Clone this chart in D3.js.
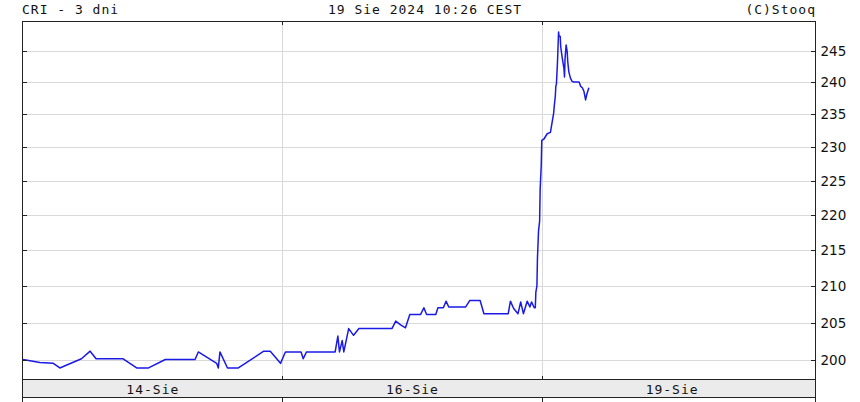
<!DOCTYPE html>
<html>
<head>
<meta charset="utf-8">
<script src="https://cdn.jsdelivr.net/npm/d3@7"></script>
<style>
  html, body { margin: 0; padding: 0; background: #fff; }
  svg { display: block; }
  .mono { font-family: "DejaVu Sans Mono", monospace; font-size: 13px; letter-spacing: 1px; fill: #111; }
</style>
</head>
<body>
<svg id="chart" width="860" height="402"></svg>
<script>
// ---- DATA ----
const titleLeft = "CRI - 3 dni";
const titleCenter = "19 Sie 2024 10:26 CEST";
const titleRight = "(C)Stooq";
const dayLabels = ["14-Sie", "16-Sie", "19-Sie"];
const dayStarts = [0, 480, 960];          // session minutes at start of each day
const yTicks = [200, 205, 210, 215, 220, 225, 230, 235, 240, 245];
// session minutes (480 per trading day) and price
const times = [
  1, 32, 57, 69, 109, 125, 136, 186, 211, 233, 264, 319, 325, 359, 362, 365, 379, 399, 446, 458, 477,
  486, 515, 519, 525, 578, 583, 586, 591, 594, 603, 612, 622, 683, 690, 699, 708, 716, 736, 742, 747,
  764, 768, 778, 783, 788, 819, 827, 846, 853, 898, 902, 908, 916, 921, 926, 933, 938, 941, 946, 948,
  949, 951, 952, 954, 956, 957, 959,
  960, 964, 970, 976, 978, 982, 983, 985, 986, 987, 989, 991, 992, 994, 995, 997, 998, 1001, 1002,
  1003, 1005, 1007, 1008, 1010, 1013, 1016, 1019, 1029, 1032, 1035, 1038, 1041, 1043, 1047
];
const values = [
  200.1, 199.7, 199.6, 199.0, 200.2, 201.2, 200.2, 200.2, 199.0, 199.0, 200.1, 200.1, 201.1, 199.6, 199.0, 201.1, 199.0, 199.0, 201.2, 201.2, 199.6,
  201.1, 201.1, 200.2, 201.1, 201.1, 203.2, 201.1, 202.6, 201.1, 204.2, 203.3, 204.2, 204.2, 205.2, 204.7, 204.3, 206.1, 206.1, 207.0, 206.1,
  206.1, 207.0, 207.0, 207.9, 207.1, 207.1, 208.0, 208.0, 206.2, 206.2, 207.9, 206.9, 206.2, 207.8, 206.2, 207.9, 207.1, 207.8, 207.0, 207.0,
  209.1, 210.0, 213.9, 217.7, 219.1, 223.7, 227.3,
  231.0, 231.2, 232.0, 232.2, 233.2, 235.2, 236.2, 237.8, 239.4, 239.6, 243.1, 248.0, 247.3, 247.3, 245.6, 244.3, 243.7, 242.1, 240.8,
  243.7, 245.9, 244.8, 243.2, 241.6, 240.6, 240.1, 240.0, 240.0, 239.3, 239.1, 238.5, 237.2, 238.0, 239.1
];

// ---- LAYOUT ----
const L = 22.5, R = 815.5, T = 21.5, B = 379.5, BAND = 397.5, H = 402;
const svg = d3.select("#chart");

const x = d3.scaleLinear().domain([0, 1466]).range([L, R]);
const y = d3.scaleLog().domain([197.5, 249.7]).range([B, T]);

const crisp = v => Math.round(v) + 0.5;

// band under the plot
svg.append("rect").attr("x", L).attr("y", B).attr("width", R - L).attr("height", BAND - B)
  .attr("fill", "#ebebeb");

// horizontal gridlines
svg.append("g").selectAll("line").data(yTicks).join("line")
  .attr("x1", L).attr("x2", R)
  .attr("y1", d => crisp(y(d))).attr("y2", d => crisp(y(d)))
  .attr("stroke", "#d9d9d9").attr("stroke-width", 1);

// vertical day gridlines
const bounds = dayStarts.slice(1);
svg.append("g").selectAll("line").data(bounds).join("line")
  .attr("x1", d => crisp(x(d))).attr("x2", d => crisp(x(d)))
  .attr("y1", T).attr("y2", B)
  .attr("stroke", "#d9d9d9").attr("stroke-width", 1);

// price line
const line = d3.line().x((d, i) => x(times[i])).y(d => y(d));
svg.append("path").datum(values)
  .attr("d", line)
  .attr("fill", "none")
  .attr("stroke", "#1a1ae6")
  .attr("stroke-width", 1.5)
  .attr("stroke-linejoin", "round");

// right axis (ticks inside, labels outside)
const yAxisR = d3.axisRight(y).tickValues(yTicks).tickSize(-5).tickPadding(5).tickFormat(d3.format("d"));
const gR = svg.append("g").attr("transform", `translate(${R},0)`).call(yAxisR);
gR.select(".domain").remove();
gR.selectAll(".tick line").attr("stroke", "#222").attr("shape-rendering", "crispEdges");
gR.selectAll(".tick").attr("transform", d => `translate(0,${crisp(y(d))})`);
gR.selectAll(".tick text")
  .attr("font-family", "'DejaVu Sans', Verdana, sans-serif")
  .attr("font-size", 13.5).attr("fill", "#111");

// left axis ticks (inside, no labels)
const yAxisL = d3.axisLeft(y).tickValues(yTicks).tickSize(-4).tickFormat("");
const gL = svg.append("g").attr("transform", `translate(${L},0)`).call(yAxisL);
gL.select(".domain").remove();
gL.selectAll(".tick").attr("transform", d => `translate(0,${crisp(y(d))})`);
gL.selectAll(".tick line").attr("stroke", "#222").attr("shape-rendering", "crispEdges");

// day boundary ticks at top & bottom of plot
const topTicks = d3.axisBottom(x).tickValues(bounds).tickSize(3).tickFormat("");
const gTop = svg.append("g").attr("transform", `translate(0,${T})`).call(topTicks);
gTop.select(".domain").remove();
gTop.selectAll(".tick").attr("transform", d => `translate(${crisp(x(d))},0)`);
gTop.selectAll(".tick line").attr("stroke", "#222").attr("shape-rendering", "crispEdges");
const botTicks = d3.axisTop(x).tickValues(bounds).tickSize(4).tickFormat("");
const gBot = svg.append("g").attr("transform", `translate(0,${B})`).call(botTicks);
gBot.select(".domain").remove();
gBot.selectAll(".tick").attr("transform", d => `translate(${crisp(x(d))},0)`);
gBot.selectAll(".tick line").attr("stroke", "#222").attr("shape-rendering", "crispEdges");

// frame
const frame = svg.append("g").attr("stroke", "#222").attr("stroke-width", 1).attr("shape-rendering", "crispEdges");
frame.append("rect").attr("x", L).attr("y", T).attr("width", R - L).attr("height", B - T).attr("fill", "none");
frame.append("line").attr("x1", L).attr("x2", R).attr("y1", BAND).attr("y2", BAND);
frame.append("line").attr("x1", L).attr("x2", L).attr("y1", B).attr("y2", H);
frame.append("line").attr("x1", R).attr("x2", R).attr("y1", B).attr("y2", H);
frame.selectAll("line.b").data(bounds).join("line").attr("class", "b")
  .attr("x1", d => crisp(x(d))).attr("x2", d => crisp(x(d)))
  .attr("y1", BAND).attr("y2", H);

// day labels in band
const domEnd = x.domain()[1];
const labelPos = dayStarts.map((s, i) => (s + Math.min(s + 480, domEnd)) / 2);
const xAxis = d3.axisBottom(x).tickValues(labelPos).tickSize(0).tickPadding(0)
  .tickFormat((d, i) => dayLabels[i]);
const gX = svg.append("g").attr("transform", `translate(0,${B})`).call(xAxis);
gX.select(".domain").remove();
gX.selectAll(".tick text").attr("class", "mono").attr("y", 14.5).attr("dy", null)
  .attr("font-family", null).attr("font-size", null);

// titles
svg.append("text").attr("class", "mono").attr("x", 22).attr("y", 14).text(titleLeft);
svg.append("text").attr("class", "mono").attr("x", 425).attr("y", 14).attr("text-anchor", "middle").text(titleCenter);
svg.append("text").attr("class", "mono").attr("x", 816).attr("y", 14).attr("text-anchor", "end").text(titleRight);
</script>
</body>
</html>
